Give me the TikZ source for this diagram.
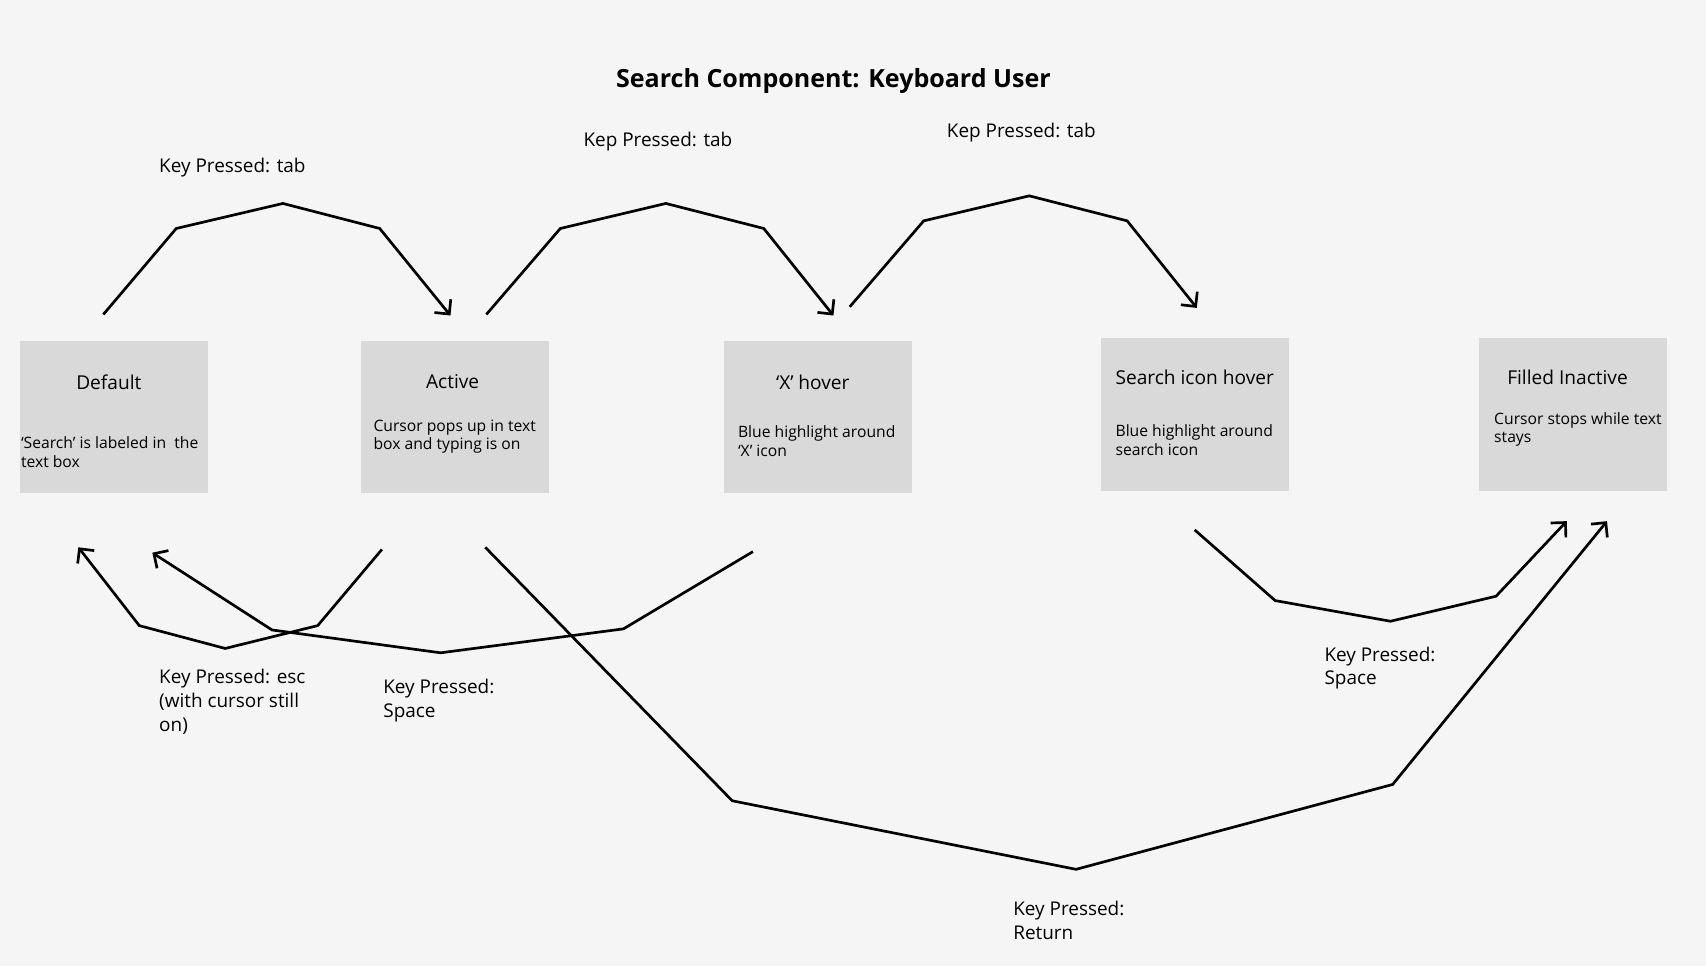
\documentclass[tikz,border=0pt]{standalone}
\usepackage{fontspec}
\setmainfont{Open Sans}
\usetikzlibrary{arrows.meta}
\definecolor{bg}{HTML}{F5F5F5}
\definecolor{boxgray}{HTML}{D9D9D9}
\tikzset{
  statebox/.style={fill=boxgray, draw=none, minimum width=3.46cm, minimum height=2.8cm, inner sep=0pt},
  boxtitle/.style={font=\fontsize{10}{12}\selectfont, inner sep=0pt},
  boxdesc/.style={font=\fontsize{8.2}{9.7}\selectfont, align=left, anchor=west, inner sep=0pt},
  lbl/.style={font=\fontsize{9.9}{12.5}\selectfont, align=left, anchor=west, inner sep=0pt},
  conn/.style={line width=1.4pt, line join=miter, -{Straight Barb[length=5.5pt,width=11pt,line width=1.4pt]}}
}
\begin{document}
\begin{tikzpicture}[x=0.02cm,y=-0.02cm]
\fill[bg] (0,0) rectangle (1568,888);
\useasboundingbox (0,0) rectangle (1568,888);

% title
\node[font=\bfseries\fontsize{13.1}{15}\selectfont, inner sep=0pt] (title) at (766,74) {Search Component: Keyboard User};

% state boxes
\node[statebox] (default) at (104.5,383) {};
\node[statebox] (active) at (418,383) {};
\node[statebox] (xhover) at (751.5,383) {};
\node[statebox] (sihover) at (1098.5,381) {};
\node[statebox] (filled) at (1445.5,381) {};

% box titles
\node[boxtitle] (defaultT) at (100,351) {Default};
\node[boxtitle] (activeT) at (416,351) {Active};
\node[boxtitle] (xhoverT) at (747,351) {‘X’ hover};
\node[boxtitle, anchor=west] (sihoverT) at (1025,347) {Search icon hover};
\node[boxtitle, anchor=west] (filledT) at (1385,347) {Filled Inactive};

% box descriptions
\node[boxdesc] (defaultD) at (19,415.5) {‘Search’ is labeled in\ \ the\\text box};
\node[boxdesc] (activeD) at (343,401.5) {Cursor pops up in text\\box and typing is on};
\node[boxdesc] (xhoverD) at (678,405.5) {Blue highlight around\\‘X’ icon};
\node[boxdesc] (sihoverD) at (1025,404.5) {Blue highlight around\\search icon};
\node[boxdesc] (filledD) at (1373,394.5) {Cursor stops while text\\stays};

% connector end points
\coordinate (t1s) at (95,289);   \coordinate (t1e) at (414,290);
\coordinate (t2s) at (447,289);  \coordinate (t2e) at (766,290);
\coordinate (t3s) at (781,282);  \coordinate (t3e) at (1100,283);
\coordinate (escS) at (351,505); \coordinate (escE) at (72,503);
\coordinate (spS) at (692,507);  \coordinate (spE) at (140,508);
\coordinate (retS) at (446,503); \coordinate (retE) at (1477,479);
\coordinate (sp2S) at (1098,487);\coordinate (sp2E) at (1440,479);

% tab connectors
\draw[conn] (t1s) -- (162,210) -- (260,187) -- (349,210) -- (t1e);
\draw[conn] (t2s) -- (515,210) -- (612,187) -- (702,210) -- (t2e);
\draw[conn] (t3s) -- (849,203) -- (946,180) -- (1036,203) -- (t3e);

% esc
\draw[conn] (escS) -- (292,575) -- (207,596) -- (128,575) -- (escE);
% space from X hover
\draw[conn] (spS) -- (573,578) -- (405,600) -- (250,579) -- (spE);
% return
\draw[conn] (retS) -- (673,736) -- (989,799) -- (1280,721) -- (retE);
% space from search icon hover
\draw[conn] (sp2S) -- (1172,552) -- (1278,571) -- (1375,548) -- (sp2E);

% labels
\node[lbl] (l1) at (146,154) {Key Pressed: tab};
\node[lbl] (l2) at (536,130) {Kep Pressed: tab};
\node[lbl] (l3) at (870,122) {Kep Pressed: tab};
\node[lbl] (lesc) at (146,645) {Key Pressed: esc\\(with cursor still\\on)};
\node[lbl] (lsp) at (352,644) {Key Pressed:\\Space};
\node[lbl] (lsp2) at (1217,614) {Key Pressed:\\Space};
\node[lbl] (lret) at (931,846) {Key Pressed:\\Return};
\end{tikzpicture}
\end{document}
